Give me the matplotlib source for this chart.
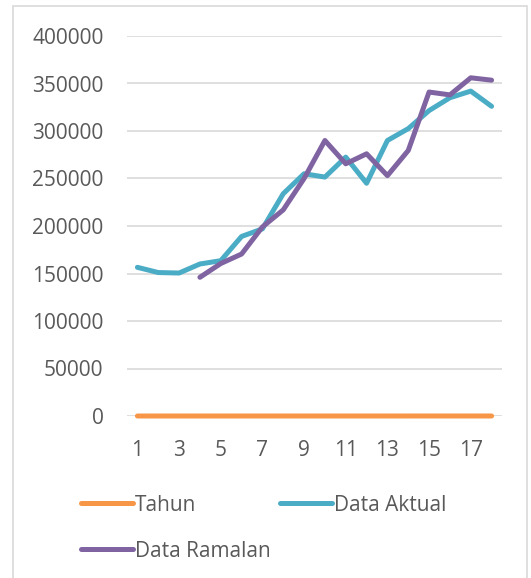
import matplotlib
matplotlib.use("Agg")
from matplotlib import pyplot as plt
from matplotlib.patches import Rectangle

plt.rcParams['font.family'] = ['Open Sans', 'DejaVu Sans']

tahun = list(range(1, 19))
data_aktual = [156500, 151000, 150500, 160000, 163500, 189000, 197000, 234000, 255000,
               251500, 272500, 245000, 290000, 302500, 321500, 335000, 342000, 326000]
ramalan_x = list(range(4, 19))
data_ramalan = [146000, 160500, 170500, 199000, 217000, 250000, 290000, 265500, 276000,
                253000, 279500, 341000, 338000, 356000, 353500]
y_ticks = [0, 50000, 100000, 150000, 200000, 250000, 300000, 350000, 400000]
x_ticks = [1, 3, 5, 7, 9, 11, 13, 15, 17]

c_tahun = '#F79646'
c_aktual = '#4BACC6'
c_ramalan = '#8064A2'
txt = '#595959'

fig = plt.figure(figsize=(5.31, 5.78), dpi=100)
fig.patches.append(Rectangle((13 / 531, -10 / 578), 514 / 531, 582 / 578, transform=fig.transFigure,
                             fill=False, edgecolor='#D9D9D9', linewidth=1.2))
ax = fig.add_axes([127 / 531, 1 - 416 / 578, 375 / 531, 380 / 578])

l1, = ax.plot(tahun, tahun, color=c_tahun, linewidth=3.6, solid_capstyle='round',
              clip_on=False, label='Tahun')
l2, = ax.plot(tahun, data_aktual, color=c_aktual, linewidth=3.6, solid_capstyle='round',
              solid_joinstyle='round', clip_on=False, label='Data Aktual')
l3, = ax.plot(ramalan_x, data_ramalan, color=c_ramalan, linewidth=3.6, solid_capstyle='round',
              solid_joinstyle='round', clip_on=False, label='Data Ramalan')

ax.set_xlim(0.5, 18.5)
ax.set_ylim(0, 400000)
ax.set_yticks(y_ticks)
ax.set_yticklabels([str(v) for v in y_ticks])
ax.set_xticks(x_ticks)
ax.set_xticklabels([str(v) for v in x_ticks])
ax.grid(axis='y', color='#D9D9D9', linewidth=1.2)
ax.set_axisbelow(True)
for s in ax.spines.values():
    s.set_visible(False)
ax.tick_params(length=0, labelsize=15, colors=txt)
ax.tick_params(axis='y', pad=17)
ax.tick_params(axis='x', pad=17)

# order so that rows read Tahun, Data Aktual / Data Ramalan
leg = fig.legend([l1, l3, l2], ['Tahun', 'Data Ramalan', 'Data Aktual'],
                 loc='upper left', bbox_to_anchor=(62 / 531, 1 - 476 / 578), ncol=2,
                 frameon=False, fontsize=15, handlelength=2.5, handletextpad=0.1,
                 columnspacing=0.45, labelspacing=1.2)
for t in leg.get_texts():
    t.set_color(txt)

fig.savefig('out.png', dpi=100)
